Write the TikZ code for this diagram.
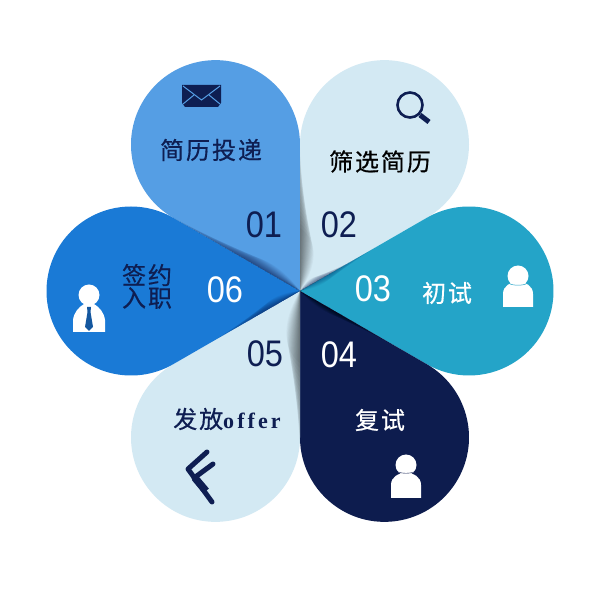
\documentclass[tikz,border=0pt]{standalone}
\usepackage{fontspec}
\usepackage{graphicx}
\newfontfamily\cjk[LetterSpace=8,FakeBold=0.5]{Noto Sans CJK SC}
\newfontfamily\numfont{Liberation Sans}
\newfontfamily\latinserif[LetterSpace=14]{Liberation Serif}
\definecolor{navy}{HTML}{0E1E52}
\definecolor{pone}{HTML}{559EE4}
\definecolor{ptwo}{HTML}{D3E9F3}
\definecolor{pthree}{HTML}{24A4C8}
\definecolor{pfour}{HTML}{0D1C4E}
\definecolor{psix}{HTML}{1A7AD6}
\definecolor{tie}{HTML}{14579F}
\newcommand\petalpath{(0,0) -- (126.75,73.18) arc[start angle=120,end angle=-120,radius=84.5] -- cycle}
\newcommand\petalfill[2]{\fill[#2,shift={(300,309)},rotate=#1] \petalpath;}
% petal angle, side, length, width, colour, opacity per layer
\newcommand\edgeshade[6]{%
  \begin{scope}[shift={(300,309)},rotate=#1]
    \clip \petalpath;
    \begin{scope}[rotate=#2*30]
      \foreach \k in {1,...,20}{
        \pgfmathsetmacro\lk{#3*(1.05-0.6*\k/20)}
        \pgfmathsetmacro\wk{#2*(-1)*#4*\k/20}
        \fill[#5,fill opacity=#6] (0,0) .. controls (0.5*\lk,0.9*\wk) and (0.85*\lk,0.6*\wk) .. (\lk,0) -- cycle;
      }
    \end{scope}
  \end{scope}}
\tikzset{
  lbl/.style={inner sep=0pt,font=\cjk\fontsize{24}{24}\selectfont},
  num/.style={inner sep=0pt},
  head/.style={fill=white,draw=none}
}
\newcommand\numtxt[1]{\scalebox{0.88}[1]{\numfont\fontsize{37}{37}\selectfont #1}}
\newcommand\personbody[2]{% x-centre, y-base
  \fill[white] (#1-15,#2) -- (#1-15,#2+13) .. controls (#1-15,#2+21) and (#1-8,#2+25) .. (#1,#2+25) .. controls (#1+8,#2+25) and (#1+15,#2+21) .. (#1+15,#2+13) -- (#1+15,#2) -- cycle;}
\begin{document}
\begin{tikzpicture}[x=1pt,y=1pt]
\useasboundingbox (0,0) rectangle (600,600);
\fill[white] (0,0) rectangle (600,600);
\petalfill{120}{pone}
\petalfill{60}{ptwo}
\petalfill{0}{pthree}
\petalfill{-60}{pfour}
\petalfill{-120}{ptwo}
\petalfill{180}{psix}
\edgeshade{120}{1}{150}{16}{navy}{0.045}
\edgeshade{60}{1}{140}{24}{black}{0.032}
\edgeshade{60}{-1}{60}{9}{navy}{0.035}
\edgeshade{-120}{1}{160}{24}{black}{0.032}
\edgeshade{180}{1}{100}{12}{navy}{0.04}
\edgeshade{-60}{1}{110}{9}{black}{0.035}
\edgeshade{0}{1}{90}{9}{navy}{0.02}
% labels
\node[lbl,text=navy] (t1) at (211,450) {简历投递};
\node[lbl,text=black] (t2) at (380,438.5) {筛选简历};
\node[lbl,text=white] (t3) at (447,307) {初试};
\node[lbl,text=white] (t4) at (380,180) {复试};
\node[inner sep=0pt,text=navy,font=\cjk\fontsize{24}{24}\selectfont] (t5) at (227,181) {发放{\latinserif\bfseries\fontsize{22}{22}\selectfont offer}};
\node[lbl,text=navy] (t6a) at (147,325) {签约};
\node[lbl,text=navy] (t6b) at (147,302) {入职};
% numbers
\node[num,text=navy] (n1) at (264,375) {\numtxt{01}};
\node[num,text=navy] (n2) at (339,375) {\numtxt{02}};
\node[num,text=white] (n3) at (373,311) {\numtxt{03}};
\node[num,text=white] (n4) at (339,245) {\numtxt{04}};
\node[num,text=navy] (n5) at (265,246) {\numtxt{05}};
\node[num,text=white] (n6) at (225,310) {\numtxt{06}};
% envelope
\fill[navy] (182,515) -- (221,515) -- (221,497) -- (218,493) -- (185,493) -- (182,497) -- cycle;
\draw[pone,line width=1pt] (183,514) -- (201.5,500) -- (220,514);
\draw[pone,line width=1pt] (183,496) -- (194,505);
\draw[pone,line width=1pt] (220,496) -- (209,505);
% magnifier
\draw[navy,line width=2.6pt] (410,495) circle[radius=12.5];
\draw[navy,line width=5pt] (420,485) -- (429,478);
% person 03
\fill[head] (518,324) circle[radius=10.5];
\personbody{518}{293}
\draw[pthree,line width=0.5pt] (508,317) .. controls (513,314) and (523,314) .. (528,317);
% person 04
\fill[head] (406,135) circle[radius=10.5];
\personbody{406}{102}
\draw[pfour,line width=0.4pt] (396,129) .. controls (401,126) and (411,126) .. (416,129);
% person 06
\fill[head] (89,305) circle[radius=10.5];
\fill[white] (73,268) -- (73,280) .. controls (74,288) and (79,293) .. (84,296) -- (94,296) .. controls (99,293) and (104,288) .. (105,280) -- (105,268) -- cycle;
\fill[tie] (87,293) -- (91,293) -- (90.5,288) -- (93,273) -- (89,269) -- (85,273) -- (87.5,288) -- cycle;
% offer icon
\draw[navy,line width=5pt,line cap=round,line join=round] (207,148) -- (188,131) -- (212,98);
\draw[navy,line width=5pt,line cap=round] (213,136) -- (194,122);
\draw[navy,line width=7.5pt] (195,122) -- (206,109);
\end{tikzpicture}
\end{document}
